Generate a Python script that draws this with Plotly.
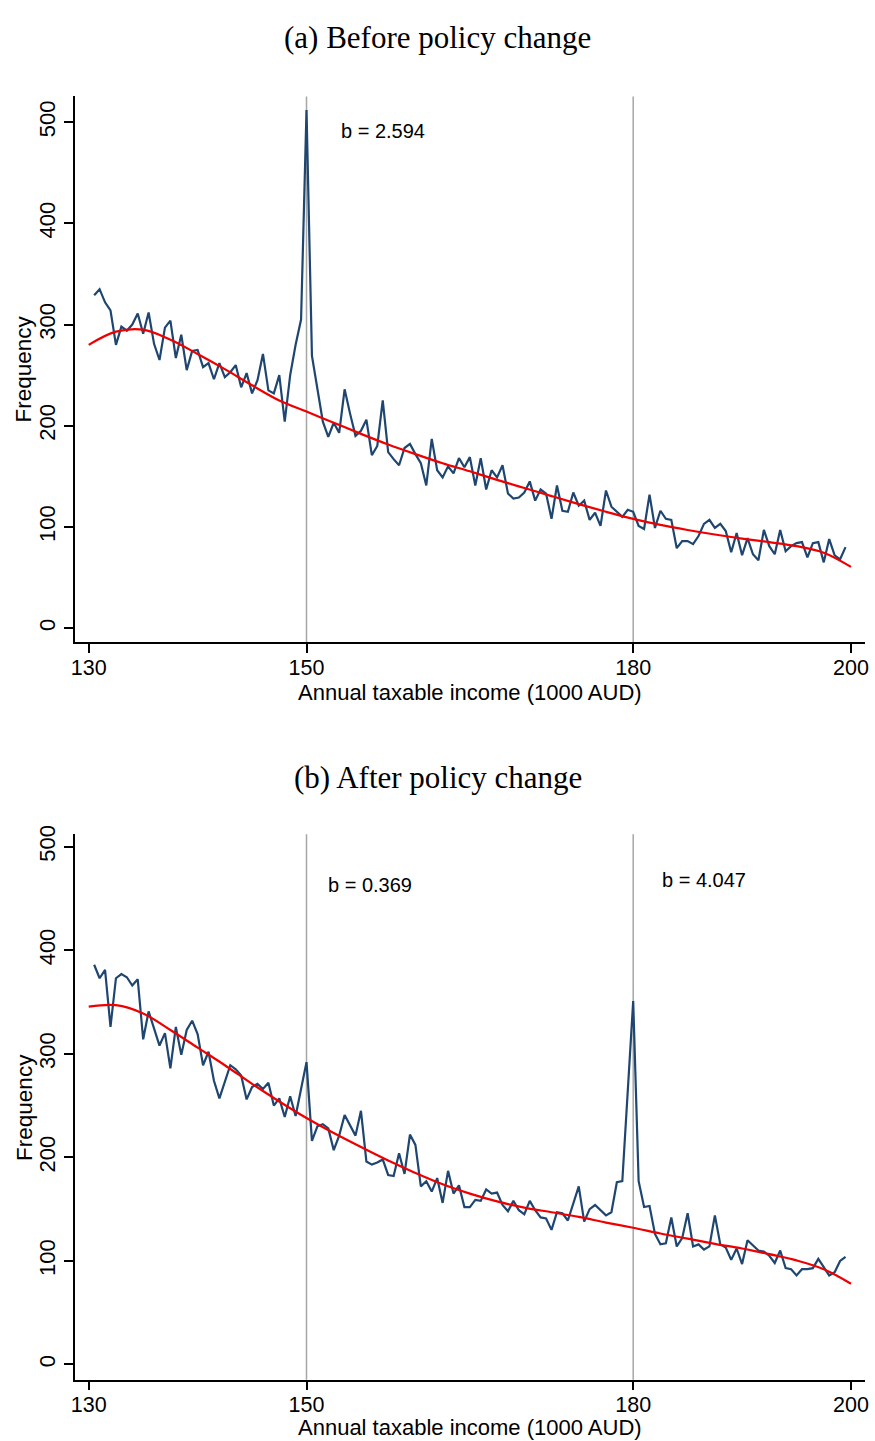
import numpy as np
import plotly.graph_objects as go

# Income bins (1000 AUD), half-thousand steps
income = np.arange(130.5, 199.75, 0.5)

# Taxpayer counts per bin, before the policy change
freq_before = [
    329, 335, 322, 314, 280, 298, 294, 300, 311, 291,
    312, 281, 265, 297, 304, 267, 290, 255, 274, 275,
    258, 262, 246, 262, 248, 253, 260, 238, 252, 232,
    245, 271, 235, 232, 250, 204, 250, 280, 305, 512,
    269, 238, 204, 189, 203, 193, 236, 212, 190, 195,
    206, 171, 180, 225, 174, 167, 161, 178, 182, 172,
    163, 141, 187, 156, 149, 160, 153, 168, 159, 169,
    141, 168, 137, 156, 149, 161, 133, 128, 129, 134,
    145, 126, 137, 133, 108, 141, 116, 115, 134, 121,
    126, 107, 114, 101, 136, 120, 115, 110, 117, 115,
    101, 98, 132, 99, 116, 108, 107, 79, 86, 86,
    83, 91, 103, 107, 99, 103, 96, 75, 94, 72,
    89, 73, 67, 97, 81, 73, 97, 76, 81, 84,
    85, 70, 84, 85, 65, 88, 72, 68, 80,
]

# Taxpayer counts per bin, after the policy change
freq_after = [
    386, 373, 381, 326, 373, 377, 374, 366, 372, 314,
    341, 325, 308, 320, 286, 326, 299, 323, 332, 319,
    289, 302, 274, 257, 273, 289, 285, 279, 256, 268,
    271, 266, 272, 250, 257, 239, 259, 240, 266, 292,
    216, 230, 232, 228, 207, 221, 241, 231, 221, 245,
    196, 193, 195, 198, 183, 182, 204, 184, 222, 212,
    172, 177, 167, 180, 156, 187, 165, 173, 152, 152,
    159, 158, 169, 165, 166, 154, 148, 158, 149, 145,
    158, 149, 142, 141, 130, 147, 146, 139, 155, 172,
    138, 150, 154, 149, 144, 147, 176, 177, 268, 351,
    177, 152, 153, 126, 116, 117, 142, 114, 122, 146,
    114, 116, 111, 114, 144, 116, 113, 101, 112, 97,
    120, 115, 110, 109, 105, 98, 110, 93, 92, 86,
    92, 92, 93, 102, 94, 86, 89, 100, 104,
]

# Counterfactual (polynomial fit) density, sampled along the income axis
fit_income = [130, 132.5, 135, 137.5, 140, 142.5, 145, 147.5, 150, 152.5,
              155, 157.5, 160, 162.5, 165, 167.5, 170, 172.5, 175, 177.5,
              180, 182.5, 185, 187.5, 190, 192.5, 195, 197.5, 200]
fit_before = [280, 293, 295, 285, 271, 256, 240, 225, 214, 203,
              192, 181.5, 172, 163, 155, 146.5, 138.5, 130.5, 122.5, 115,
              108, 102, 97, 92.5, 88.5, 85, 81, 74.5, 60.5]
fit_after = [345.5, 347, 339, 323, 306, 289, 271, 254, 238, 223.5,
             210, 197, 185, 174, 165, 157.5, 151.5, 147, 142.5, 137,
             132, 126.5, 121.5, 116.5, 112, 106.5, 100.5, 92, 78]

thresholds = [150, 180]
x_ticks = [130, 150, 180, 200]
y_ticks = [0, 100, 200, 300, 400, 500]

# Bunching estimates: (x, y, label)
labels_before = [(153.0, 491, "b = 2.594")]
labels_after = [(151.8, 463, "b = 0.369"), (182.5, 468, "b = 4.047")]

panel_titles = ["(a) Before policy change", "(b) After policy change"]
x_title = "Annual taxable income (1000 AUD)"
y_title = "Frequency"

W, H = 875, 1441
NAVY = "#1f4670"
SANS = "Liberation Sans, Arial, sans-serif"
SERIF = "Liberation Serif, Times New Roman, serif"

X_DOM = [71.5 / W, 868.5 / W]
X_RANGE = [128.726, 201.247]
TOP_DOM = [1 - 637 / H, 1 - 88 / H]
BOT_DOM = [1 - 1379.3 / H, 1 - 830.4 / H]

fig = go.Figure()

panels = [
    ("x", "y", freq_before, fit_before, labels_before),
    ("x2", "y2", freq_after, fit_after, labels_after),
]
for xa, ya, freq, fit, labs in panels:
    fig.add_trace(go.Scatter(x=income, y=freq, mode="lines",
                             line=dict(color=NAVY, width=2.2),
                             xaxis=xa, yaxis=ya, showlegend=False,
                             hoverinfo="skip"))
    fig.add_trace(go.Scatter(x=fit_income, y=fit, mode="lines",
                             line=dict(color="#ee0000", width=2.2,
                                       shape="spline", smoothing=1.0),
                             xaxis=xa, yaxis=ya, showlegend=False,
                             hoverinfo="skip"))
    for t in thresholds:
        fig.add_shape(type="line", xref=xa, yref=ya + " domain",
                      x0=t, x1=t, y0=0, y1=1, layer="below",
                      line=dict(color="#a6a6a6", width=1.5))
    for lx, ly, txt in labs:
        fig.add_annotation(x=lx, y=ly, xref=xa, yref=ya, text=txt,
                           showarrow=False, xanchor="left", yanchor="middle",
                           font=dict(family=SANS, size=20, color="black"))

axis_common = dict(showline=True, linecolor="black", linewidth=1.6,
                   ticks="outside", ticklen=9, tickwidth=1.5,
                   tickcolor="black", showgrid=False, zeroline=False)
x_font = dict(family=SANS, size=21.5, color="black")
y_font = dict(family=SANS, size=22, color="black")

fig.update_layout(
    width=W, height=H, autosize=False,
    margin=dict(l=0, r=0, t=0, b=0),
    paper_bgcolor="white", plot_bgcolor="white",
    xaxis=dict(domain=X_DOM, range=X_RANGE, tickvals=x_ticks,
               tickfont=x_font, ticklabelstandoff=-4,
               anchor="y", **axis_common),
    yaxis=dict(domain=TOP_DOM, range=[-13.75, 525.5], tickvals=y_ticks,
               tickfont=y_font, tickangle=-90, anchor="x", **axis_common),
    xaxis2=dict(domain=X_DOM, range=X_RANGE, tickvals=x_ticks,
                tickfont=x_font, ticklabelstandoff=-4,
                anchor="y2", **axis_common),
    yaxis2=dict(domain=BOT_DOM, range=[-14.7, 512.1], tickvals=y_ticks,
                tickfont=y_font, tickangle=-90, anchor="x2", **axis_common),
)

# Panel titles and axis titles
for title, ty in zip(panel_titles, [29, 773]):
    fig.add_annotation(x=437.5 / W, y=1 - ty / H, xref="paper", yref="paper",
                       text=title, showarrow=False, xanchor="center",
                       yanchor="middle",
                       font=dict(family=SERIF, size=31, color="black"))
for xt_y, yt_y in [(688, 362), (1427.5, 1105)]:
    fig.add_annotation(x=470 / W, y=1 - xt_y / H, xref="paper", yref="paper",
                       text=x_title, showarrow=False, xanchor="center",
                       yanchor="middle",
                       font=dict(family=SANS, size=22, color="black"))
    fig.add_annotation(x=20 / W, y=1 - yt_y / H, xref="paper", yref="paper",
                       text=y_title, showarrow=False, textangle=-90,
                       xanchor="center", yanchor="middle",
                       font=dict(family=SANS, size=22.5, color="black"))

fig.write_html("out.html")
